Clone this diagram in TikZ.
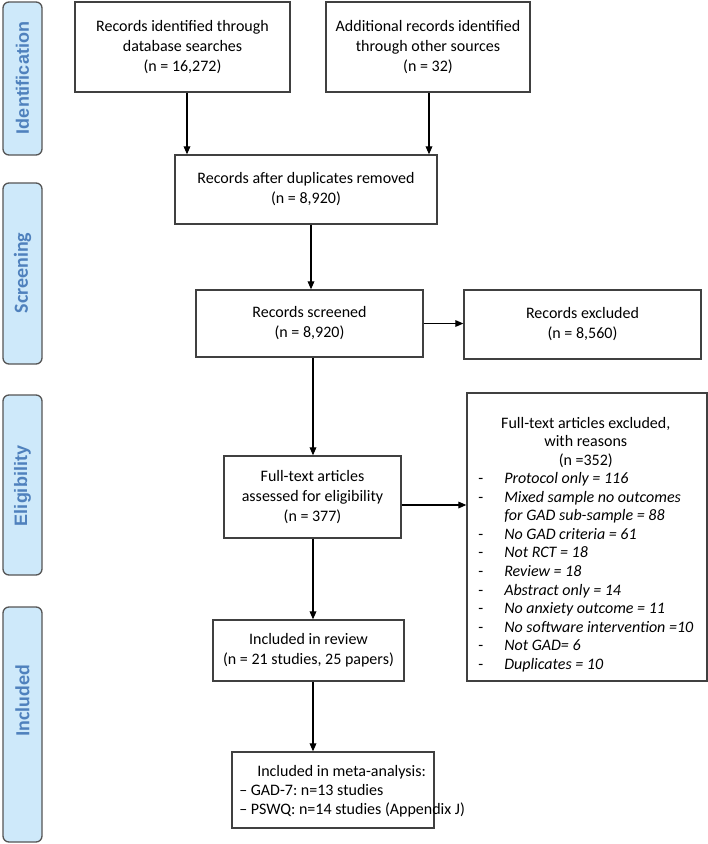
\documentclass[tikz,border=0pt]{standalone}
\usepackage{fontspec}
\setmainfont{Carlito}
\newfontfamily\arialfont{Liberation Sans}
\usetikzlibrary{arrows.meta}
\definecolor{boxgray}{RGB}{64,64,64}
\definecolor{sidegray}{RGB}{85,85,85}
\definecolor{sidefill}{RGB}{206,233,250}
\definecolor{sidetext}{RGB}{79,129,189}
\newcommand{\mainfs}{\frenchspacing\fontsize{12pt}{15pt}\selectfont}
\newcommand{\exclfs}{\frenchspacing\fontsize{12pt}{13.9pt}\selectfont}
\begin{document}
\begin{tikzpicture}[x=0.75pt,y=-0.75pt,
  box/.style={draw=boxgray, line width=1pt, fill=white, align=center, font=\mainfs, inner sep=0pt},
  sidebox/.style={draw=sidegray, fill=sidefill, line width=1pt, rounded corners=4.5pt, minimum width=29.25pt, inner sep=0pt},
  sidelabel/.style={rotate=90, text=sidetext, inner sep=0pt},
  arialside/.style={font={\arialfont\bfseries\fontsize{13.5pt}{16pt}\selectfont}},
  calside/.style={font={\bfseries\fontsize{15pt}{18pt}\selectfont}},
  arr/.style={-{Triangle[length=6pt,width=5pt]}, line width=0.9pt, draw=black},
]
\useasboundingbox (0,0) rectangle (708,844);

% phase boxes
\node[sidebox, minimum height=114.75pt] (s1) at (22.5,78.5) {};
\node[sidelabel, arialside] (l1) at (22.5,78) {Identification};
\node[sidebox, minimum height=135.75pt] (s2) at (22.5,273.5) {};
\node[sidelabel, calside] (l2) at (22.5,273) {Screening};
\node[sidebox, minimum height=135pt] (s3) at (22.5,485) {};
\node[sidelabel, arialside] (l3) at (22.5,486) {Eligibility};
\node[sidebox, minimum height=176.25pt] (s4) at (22.5,724.5) {};
\node[sidelabel, calside] (l4) at (22.5,701) {Included};

% flow boxes
\node[box, minimum width=161.25pt, minimum height=67.5pt] (b1) at (182.5,47) {Records identified through\\database searches\\(n = 16,272)};
\node[box, minimum width=153pt, minimum height=67.5pt] (b2) at (428,47) {Additional records identified\\through other sources\\(n = 32)};
\node[box, minimum width=196.5pt, minimum height=51.75pt] (b3) at (306,189.5) {Records after duplicates removed\\(n = 8,920)};
\node[box, minimum width=170.25pt, minimum height=50.25pt] (b4) at (309.5,323.5) {Records screened\\(n = 8,920)};
\node[box, minimum width=177.75pt, minimum height=51.75pt] (b5) at (582.5,324.5) {Records excluded\\(n = 8,560)};
\node[box, minimum width=132.75pt, minimum height=61.5pt] (b7) at (312.5,497) {Full-text articles\\assessed for eligibility\\(n = 377)};
\node[box, minimum width=180pt, minimum height=216pt] (b6) at (587,537) {};
\node[anchor=north west, inner sep=0pt, font=\exclfs] (b6t) at (478,415) {%
\begin{tabular}{@{}p{19.5pt}@{}l@{}}
\multicolumn{2}{@{}c@{}}{Full-text articles excluded,}\\
\multicolumn{2}{@{}c@{}}{with reasons}\\
\multicolumn{2}{@{}c@{}}{(n =352)}\\
- & \textit{Protocol only = 116}\\
- & \textit{Mixed sample no outcomes}\\
  & \textit{for GAD sub-sample = 88}\\
- & \textit{No GAD criteria = 61}\\
- & \textit{Not RCT = 18}\\
- & \textit{Review = 18}\\
- & \textit{Abstract only = 14}\\
- & \textit{No anxiety outcome = 11}\\
- & \textit{No software intervention =10}\\
- & \textit{Not GAD= 6}\\
- & \textit{Duplicates = 10}
\end{tabular}};
\node[box, minimum width=143.25pt, minimum height=45.75pt] (b8) at (308.5,650.5) {Included in review\\(n = 21 studies, 25 papers)};
\node[box, minimum width=151.5pt, minimum height=57pt] (b9) at (333,790) {};
\node[anchor=west, align=left, inner sep=0pt, font=\fontsize{12pt}{14.3pt}\selectfont\frenchspacing] (b9t) at (239,791) {\hspace*{13.5pt}Included in meta-analysis:\\-- GAD-7: n=13 studies\\-- PSWQ: n=14 studies (Appendix J)};

% connectors
\coordinate (x1) at (187,0);
\coordinate (x2) at (429,0);
\coordinate (x3) at (311,0);
\coordinate (x4) at (313,0);
\coordinate (y6) at (0,505);
\draw[arr] (b1.south -| x1) -- (b3.north -| x1);
\draw[arr] (b2.south -| x2) -- (b3.north -| x2);
\draw[arr] (b3.south -| x3) -- (b4.north -| x3);
\draw[arr] (b4.east) -- (b4.east -| b5.west);
\draw[arr] (b4.south -| x4) -- (b7.north -| x4);
\draw[arr] (b7.east |- y6) -- (b6.west |- y6);
\draw[arr] (b7.south -| x4) -- (b8.north -| x4);
\draw[arr] (b8.south -| x4) -- (b9.north -| x4);
\end{tikzpicture}
\end{document}
